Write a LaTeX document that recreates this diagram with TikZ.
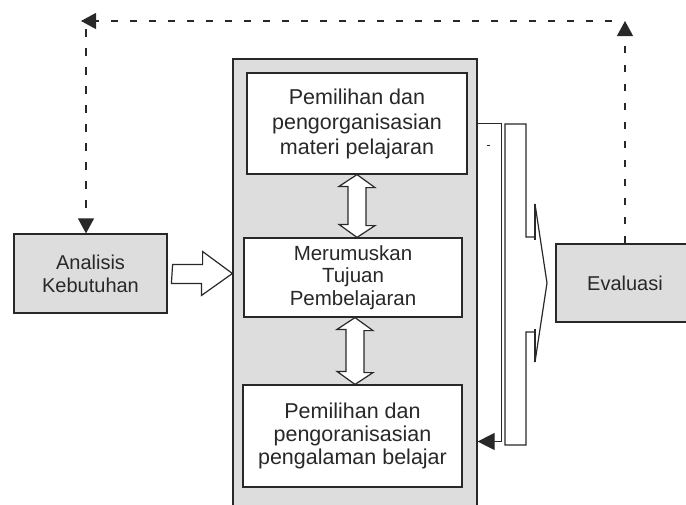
\documentclass[tikz,border=0pt]{standalone}
\usepackage{fontspec}
\setmainfont{Liberation Sans}
\usetikzlibrary{arrows.meta,calc}
\definecolor{abu}{RGB}{221,221,221}
\definecolor{garis}{RGB}{40,40,40}
\begin{document}
\begin{tikzpicture}[x=1pt,y=-1pt,
  kotak/.style={draw=garis,line width=1.2pt,fill=white,align=center,inner sep=0pt,text=garis},
  kotakabu/.style={kotak,fill=abu},
  putus/.style={draw=garis,line width=1.2pt,dash pattern=on 7.5pt off 11.5pt,-{Triangle[length=15pt,width=16pt]}},
  blok/.style={draw=garis,line width=1.2pt,fill=white}]
\useasboundingbox (0,0) rectangle (686,504);
\clip (0,0) rectangle (686,504);

\node[kotakabu,minimum width=244pt,minimum height=500pt] (proses) at (355,309) {};
\node[kotak,minimum width=220pt,minimum height=101pt,font=\fontsize{21.5}{25}\selectfont] (materi) at (357,123.5) {Pemilihan dan\\pengorganisasian\\materi pelajaran};
\node[kotak,minimum width=218pt,minimum height=79pt,font=\fontsize{20.5}{22.5}\selectfont] (tujuan) at (353,277.5) {Merumuskan\\Tujuan\\Pembelajaran};
\node[kotak,minimum width=219pt,minimum height=102pt,font=\fontsize{21.5}{23}\selectfont] (pengalaman) at (352.5,436) {Pemilihan dan\\pengoranisasian\\pengalaman belajar};
\node[kotakabu,minimum width=153pt,minimum height=79pt,font=\fontsize{20}{23}\selectfont] (analisis) at (90.5,273.5) {Analisis\\Kebutuhan};
\node[kotakabu,minimum width=138pt,minimum height=78pt,font=\fontsize{20}{23}\selectfont] (evaluasi) at (625,283) {Evaluasi};

\coordinate (puncakkanan) at (evaluasi.north |- 0,21);
\coordinate (puncakkiri) at (86,21);

\draw[blok] ($(analisis.east)+(5,-9)$) -- ++(30,0) -- ++(0,-13) -- (proses.west |- analisis.east) -- ++(-31,22) -- ++(0,-12) -- ++(-30,0) -- cycle;
\draw[blok] (materi.south) -- ++(18,13) -- ++(-9,0) -- ++(0,38) -- ++(9,0) -- (materi.south |- tujuan.north) -- ++(-18,-13) -- ++(9,0) -- ++(0,-38) -- ++(-9,0) -- cycle;
\draw[blok] ($(tujuan.south)+(2,0)$) -- ++(18,13) -- ++(-9,0) -- ++(0,42) -- ++(9,0) -- ($(tujuan.south |- pengalaman.north)+(2,0)$) -- ++(-18,-13) -- ++(9,0) -- ++(0,-42) -- ++(-9,0) -- cycle;

\draw[draw=garis,line width=1.2pt,-{Triangle[length=17pt,width=17pt]}] (proses.east |- materi.east) -- ++(24,0) |- ($(proses.east |- pengalaman.east)+(0,5.5)$);
\draw[draw=garis,line width=1pt] (487,145) -- (490,145);

\draw[blok] (505,124) -- (526,124) -- (526,237) -- (535,237) -- (535,204) -- (547,283) -- (535,362) -- (535,332) -- (526,332) -- (526,445) -- (505,445) -- cycle;
\draw[garis,line width=2.6pt] (535,204) -- (535,240);
\draw[garis,line width=2.6pt] (535,329) -- (535,362);

\draw[putus] (evaluasi.north) -- (puncakkanan);
\draw[putus] ($(puncakkanan)+(-13,0)$) -- ($(puncakkiri)+(-5,0)$);
\draw[putus] ($(puncakkiri)+(0,8)$) -- (puncakkiri |- analisis.north);
\end{tikzpicture}
\end{document}
